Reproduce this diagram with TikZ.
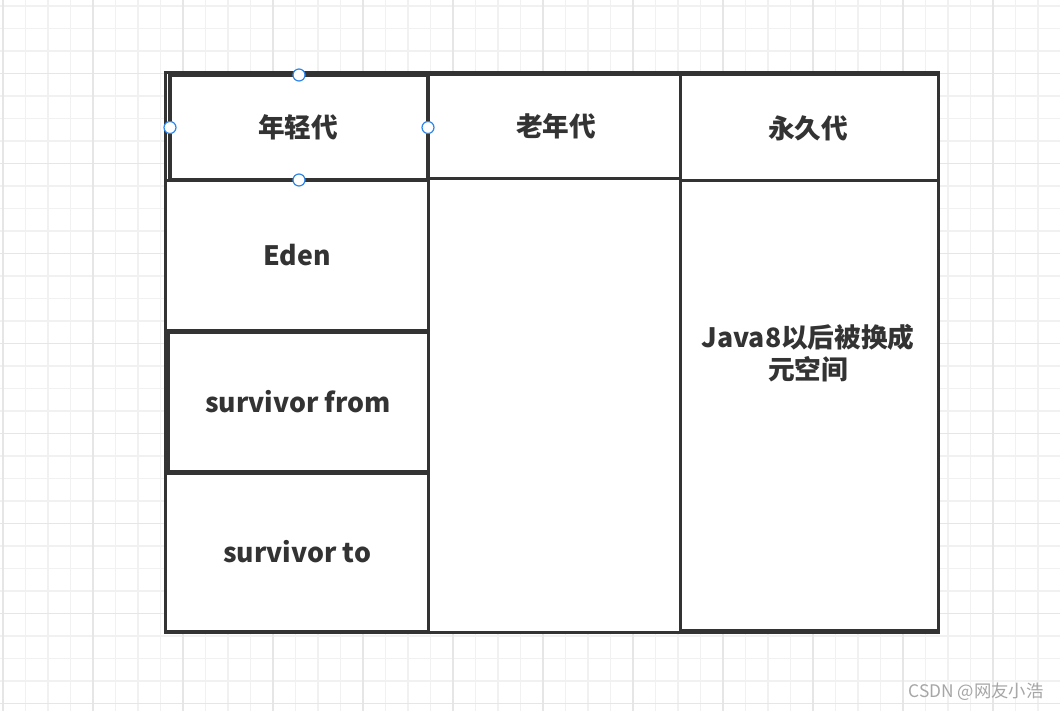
\documentclass[tikz,border=0pt]{standalone}
\usepackage{fontspec}
\setmainfont{Noto Sans CJK SC}
\usetikzlibrary{fit}
\definecolor{linec}{HTML}{333333}
\definecolor{textc}{HTML}{333333}
\definecolor{gridminor}{HTML}{F1F1F1}
\definecolor{gridmajor}{HTML}{E6E6E6}
\definecolor{handle}{HTML}{2F86E8}
\definecolor{wmark}{HTML}{A6A6A6}
\tikzset{
  cell/.style={draw=linec, line width=2.25pt, inner sep=0pt},
  thickcell/.style={cell, line width=3pt, outer sep=0pt},
  cap text/.style={text=textc, font=\fontsize{20pt}{24pt}\selectfont\bfseries, align=center, inner sep=0pt},
  handledot/.style={circle, draw=handle, fill=white, line width=0.9pt, minimum size=9pt, inner sep=0pt},
  minorline/.style={draw=gridminor, line width=0.9pt},
  majorline/.style={draw=gridmajor, line width=1.1pt}
}
\begin{document}
\begin{tikzpicture}[x=0.75pt, y=-0.75pt]
\useasboundingbox (0,0) rectangle (1060,711);
\fill[white] (0,0) rectangle (1060,711);
% grid
\foreach \i in {0,...,47} {
  \draw[minorline] ({3+22.5*\i},0) -- ({3+22.5*\i},711);
}
\foreach \i in {0,...,31} {
  \draw[minorline] (0,{6+22.5*\i}) -- (1060,{6+22.5*\i});
}
\foreach \i in {0,...,11} {
  \draw[majorline] ({3+90*\i},0) -- ({3+90*\i},711);
}
\foreach \i in {0,...,7} {
  \draw[majorline] (0,{73.5+90*\i}) -- (1060,{73.5+90*\i});
}
% outer frame
\node[cell, fill=white, fit={(165,72) (938,632)}] (frame) {};
% columns bodies
\node[cell, fit={(428,178) (680,632)}] (oldbody) {};
\node[cell, fit={(680,180) (938,630)}] (permbody) {};
% left column cells
\node[cell, fit={(165,180) (428,330)}] (eden) {};
\node[cell, fit={(168,332) (428,471)}] (sfrom) {};
\node[cell, fit={(165,473) (428,631)}] (sto) {};
% headers
\node[cell, fit={(428,74) (680,178)}] (old) {};
\node[cell, fit={(680,74) (938,180)}] (perm) {};
\node[thickcell, fit={(170,75) (428,180)}] (young) {};
% labels
\node[cap text] (youngtext) at (298,127) {年轻代};
\node[cap text] (oldtext) at (556,126) {老年代};
\node[cap text] (permhtext) at (808,128) {永久代};
\node[cap text] (edentext) at (297,255) {Eden};
\node[cap text] (sfromtext) at (298,402) {survivor from};
\node[cap text] (stotext) at (297,552) {survivor to};
\node[cap text] (permtext) at (808,353) {Java8以后被换成\\元空间};
% selection handles
\node[handledot] (hn) at (young.north) {};
\node[handledot] (hs) at (young.south) {};
\node[handledot] (hw) at (young.west) {};
\node[handledot] (he) at (young.east) {};
% watermark
\node[text=wmark, font=\fontsize{13pt}{15pt}\selectfont, inner sep=0pt] (wm) at (976,692) {CSDN @网友小浩};
\end{tikzpicture}
\end{document}
